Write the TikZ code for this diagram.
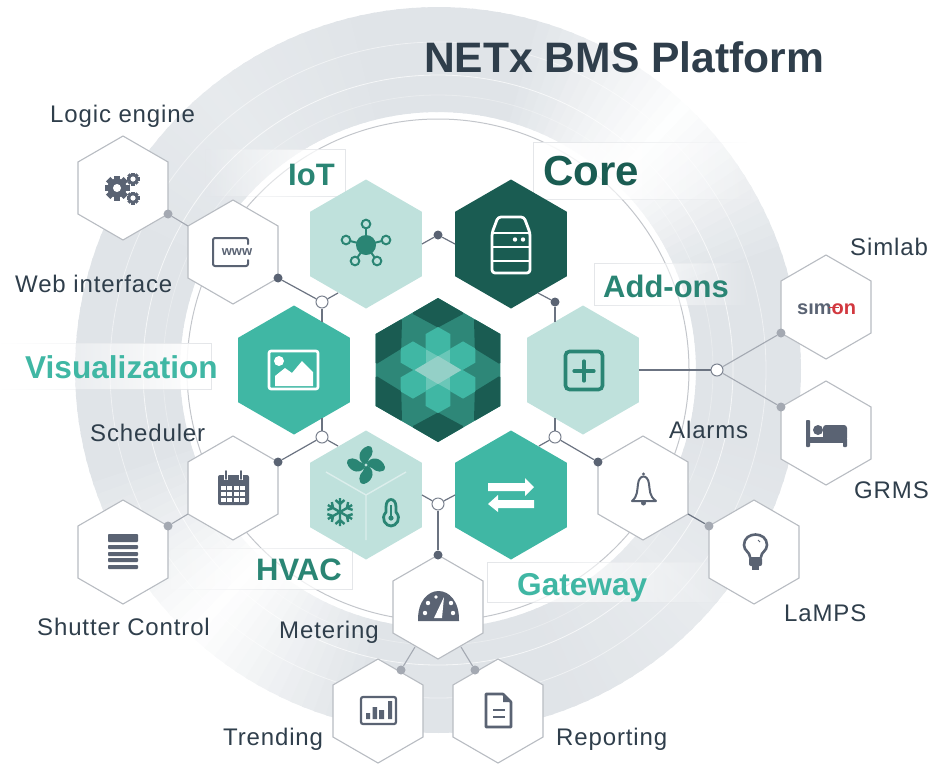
\documentclass[tikz,border=0pt]{standalone}
\usepackage{fontspec}
\setmainfont{Liberation Sans}
\newfontfamily\lblfont[LetterSpace=3.6]{Liberation Sans}
\usetikzlibrary{shapes.geometric,fadings}
\definecolor{ringc}{HTML}{E0E4E8}
\definecolor{pale}{HTML}{BFE1DC}
\definecolor{teal}{HTML}{40B7A4}
\definecolor{deep}{HTML}{1A5C52}
\definecolor{mid}{HTML}{2A8574}
\definecolor{medlogo}{HTML}{2E8778}
\definecolor{ico}{HTML}{5A6373}
\definecolor{txt}{HTML}{2F3E4B}
\definecolor{edge}{HTML}{B8BCC2}
\definecolor{bandline}{HTML}{E4E6E9}
\definecolor{simred}{HTML}{D2383F}
\tikzset{
  hexbase/.style={regular polygon,regular polygon sides=6,regular polygon rotate=30,inner sep=0pt,outer sep=0pt},
  bighex/.style={hexbase,minimum size=129pt},
  smallhex/.style={hexbase,minimum size=104pt,draw=edge,line width=1.1pt,fill=white},
  lbl/.style={anchor=base west,inner sep=0pt,text=txt,font=\lblfont\fontsize{24}{28}\selectfont},
  cat/.style={anchor=base west,inner sep=0pt,font=\bfseries\fontsize{31}{36}\selectfont},
  dotd/.style={circle,inner sep=0pt,minimum size=9pt,fill=ico},
  dotl/.style={circle,inner sep=0pt,minimum size=9pt,fill=ico!55!white},
  junction/.style={circle,inner sep=0pt,minimum size=12pt,fill=white,draw=ico!80!white,line width=1pt},
  cdark/.style={draw=ico!90!white,line width=1.2pt},
  clight/.style={draw=ico!55!white,line width=1.1pt},
  band/.style={fill=white,draw=bandline,line width=.8pt},
  icostroke/.style={draw=ico,line width=2pt,line join=round,line cap=round},
}
\newcommand\gearico[4]{%
  \foreach \a in {0,45,...,315}{\draw[ico,line width=#3*.5pt] ({#1+#3*.6*cos(\a)},{#2+#3*.6*sin(\a)}) -- ({#1+#3*cos(\a)},{#2+#3*sin(\a)});}
  \fill[ico] (#1,#2) circle ({#3*.76});
  \fill[white] (#1,#2) circle (#4);}
\begin{document}
\begin{tikzpicture}[x=1pt,y=-1pt]
\useasboundingbox (0,0) rectangle (936,764);
% ring as angular gradient
\foreach \a in {0,2,...,358}{
  \pgfmathsetmacro\tt{max(0,1-abs(\a-46)/28)*.95+max(0,1-abs(\a-226)/30)*.97+max(0,1-abs(\a-128)/28)*.22+max(0,1-abs(\a-318)/28)*.25}
  \pgfmathsetmacro\pp{100-100*min(\tt,1)}
  \pgfmathsetmacro\b{\a+2.6}
  \fill[ringc!\pp!white] ({438+363*cos(\a)},{370-363*sin(\a)}) -- ({438+363*cos(\b)},{370-363*sin(\b)}) -- ({438+258*cos(\b)},{370-258*sin(\b)}) -- ({438+258*cos(\a)},{370-258*sin(\a)}) -- cycle;
}
\draw[white,opacity=.7,line width=.8pt] (438,370) circle (295);
\draw[white,opacity=.5,line width=.8pt] (438,370) circle (328);
\draw[white,opacity=.3,line width=.8pt] (438,370) circle (275);
\draw[edge!85!white,line width=1pt] (438,370) circle (251);
% label bands
\draw[band,path fading=west] (205,149) rectangle (345,196);
\draw[band,path fading=east] (533,142) rectangle (750,199);
\draw[band,path fading=east] (594,263) rectangle (750,305);
\draw[band,path fading=west] (-2,343) rectangle (211,389);
\draw[band,path fading=west] (170,548) rectangle (352,589);
\draw[band,path fading=east] (487,562) rectangle (735,602);
% main hexes
\node[bighex,fill=pale] (iot) at (366,244) {};
\node[bighex,fill=deep] (core) at (511,244) {};
\node[bighex,fill=pale] (addons) at (583,370) {};
\node[bighex,fill=teal] (gateway) at (511,495) {};
\node[bighex,fill=pale] (hvac) at (366,495) {};
\node[bighex,fill=teal] (vis) at (294,370) {};
% centre logo
\node[hexbase,minimum size=144pt,fill=medlogo] (logo) at (438,370) {};
\begin{scope}[shift={(438,370)}]
  \foreach \r in {0,60,...,300}{
    \fill[deep,rotate=\r] (0,-72) -- (25,-57.5) -- (25,-56) -- (0,-42.5) -- (-25,-56) -- (-25,-57.5) -- cycle;
  }
  \foreach \r in {0,60,120}{
    \fill[teal,rotate=\r] (0,-43) -- (12.3,-36) -- (12.3,36) -- (0,43) -- (-12.3,36) -- (-12.3,-36) -- cycle;
  }
  \foreach \r in {60,120}{
    \fill[teal!78!white,rotate=\r] (-23.5,0) -- (0,-14) -- (23.5,0) -- (0,14) -- cycle;
  }
  \fill[teal!55!white!92!gray] (-23.5,0) -- (0,-14) -- (23.5,0) -- (0,14) -- cycle;
\end{scope}
% small hexes
\node[smallhex] (logic) at (123,188) {};
\node[smallhex] (web) at (233,252) {};
\node[smallhex] (sched) at (233,488) {};
\node[smallhex] (shutter) at (123,552) {};
\node[smallhex] (meter) at (438,607) {};
\node[smallhex] (trend) at (378,711) {};
\node[smallhex] (report) at (498,711) {};
\node[smallhex] (alarm) at (643,488) {};
\node[smallhex] (lamps) at (754,552) {};
\node[smallhex] (simlab) at (826,307) {};
\node[smallhex] (grms) at (826,433) {};
% junctions and dots
\node[dotl] (d1) at (logic.corner 5) {};
\node[dotd] (d2) at (web.corner 5) {};
\node[junction] (j1) at (322,302) {};
\node[dotd] (d3) at (438,235) {};
\node[dotd] (d4) at (555,302) {};
\node[junction] (j2) at (555,437) {};
\node[dotd] (d5) at (alarm.corner 2) {};
\node[dotl] (d6) at (lamps.corner 2) {};
\node[junction] (j3) at (717,370) {};
\node[dotl] (d7) at (simlab.corner 3) {};
\node[dotl] (d8) at (grms.corner 2) {};
\node[junction] (j4) at (322,437) {};
\node[dotd] (d9) at (sched.corner 6) {};
\node[dotl] (d10) at (shutter.corner 6) {};
\node[junction] (j5) at (438,504) {};
\node[dotd] (d11) at (meter.corner 1) {};
\node[dotl] (d12) at (401,670) {};
\node[dotl] (d13) at (475,670) {};
\coordinate (e1) at (338,293);
\coordinate (e2) at (322,322);
\coordinate (e3) at (422,244);
\coordinate (e4) at (455,244);
\coordinate (e5) at (538,293);
\coordinate (e6) at (555,322);
\coordinate (e7) at (555,418);
\coordinate (e8) at (539,446);
\coordinate (e9) at (322,418);
\coordinate (e10) at (338,446);
\coordinate (e11) at (422,495);
\coordinate (e12) at (455,495);
\coordinate (e13) at (415,647);
\coordinate (e14) at (461,647);
% connectors
\draw[clight] (d1) -- (web.corner 2);
\draw[cdark] (d2) -- (j1);
\draw[cdark] (j1) -- (e1);
\draw[cdark] (j1) -- (e2);
\draw[cdark] (e3) -- (d3);
\draw[cdark] (d3) -- (e4);
\draw[cdark] (e5) -- (d4);
\draw[cdark] (d4) -- (e6);
\draw[cdark] (e7) -- (j2);
\draw[cdark] (j2) -- (e8);
\draw[cdark] (j2) -- (d5);
\draw[cdark] (alarm.corner 5) -- (d6);
\draw[cdark] (addons.east) -- (j3);
\draw[clight] (j3) -- (d7);
\draw[clight] (j3) -- (d8);
\draw[cdark] (e9) -- (j4);
\draw[cdark] (d9) -- (j4);
\draw[cdark] (j4) -- (e10);
\draw[clight] (sched.corner 3) -- (d10);
\draw[cdark] (e11) -- (j5);
\draw[cdark] (e12) -- (j5);
\draw[cdark] (j5) -- (d11);
\draw[clight] (e13) -- (d12);
\draw[clight] (e14) -- (d13);
% texts
\node[anchor=base west,inner sep=0pt,text=txt,font=\bfseries\fontsize{42.6}{48}\selectfont] (title) at (424,72) {NETx BMS Platform};
\node[lbl] (t1) at (50,122) {Logic engine};
\node[lbl] (t2) at (15,292) {Web interface};
\node[lbl] (t3) at (850,255) {Simlab};
\node[lbl] (t4) at (854,498) {GRMS};
\node[lbl] (t5) at (669,438) {Alarms};
\node[lbl] (t6) at (784,621) {LaMPS};
\node[lbl] (t7) at (556,745) {Reporting};
\node[lbl] (t8) at (223,745) {Trending};
\node[lbl] (t9) at (279,638) {Metering};
\node[lbl] (t10) at (37,635) {Shutter Control};
\node[lbl] (t11) at (90,441) {Scheduler};
\node[cat,text=mid] (c1) at (288,185) {IoT};
\node[cat,text=deep,font=\bfseries\fontsize{42}{46}\selectfont] (c2) at (543,185) {Core};
\node[cat,text=mid] (c3) at (603,297) {Add-ons};
\node[cat,text=teal,font=\bfseries\fontsize{31.6}{36}\selectfont] (c4) at (25,378) {Visualization};
\node[cat,text=mid] (c5) at (256,580) {HVAC};
\node[cat,text=teal,font=\bfseries\fontsize{31.6}{36}\selectfont] (c6) at (517,595) {Gateway};
% ---------- icons
% gears
\gearico{117}{188}{12.5}{4}
\gearico{133}{179}{6.5}{2.6}
\gearico{133}{198}{6.5}{2.6}
% www
\draw[icostroke,rounded corners=2pt] (248,244) -- (248,238) -- (213,238) -- (213,266) -- (248,266) -- (248,260);
\node[inner sep=1pt,fill=white,text=ico,font=\bfseries\fontsize{13}{13}\selectfont] (wwwt) at (237,252) {www};
% network
\foreach \px/\py in {366/224,386/240,346/240,355/261,377/261}{
  \draw[mid,line width=2pt] (366,245) -- (\px,\py);
  \draw[mid,line width=2pt,fill=pale] (\px,\py) circle (4.3);
}
\fill[mid] (366,245) circle (10);
% server
\draw[white,line width=2.8pt,line join=round,rounded corners=3pt] (498,217) -- (524,217) -- (530,233) -- (530,273) -- (492,273) -- (492,233) -- cycle;
\draw[white,line width=2.6pt] (492,233) -- (530,233) (492,247) -- (530,247) (492,261) -- (530,261);
\fill[white] (515,239.5) circle (2.2) (523,239.5) circle (2.2);
% image
\draw[white,line width=2.6pt,rounded corners=2pt] (269,351) rectangle (318,389);
\fill[white] (279,361) circle (5);
\fill[white] (275,386) -- (275,376) -- (285,368) -- (292,373) -- (302,361) -- (313,372) -- (313,386) -- cycle;
% plus
\draw[mid,line width=3.6pt,rounded corners=4pt] (565.5,351.5) rectangle (602.5,389.5);
\draw[mid,line width=3.2pt,line cap=round] (574,371) -- (594,371) (584,361) -- (584,381);
% fan and dividers
\draw[white!45!pale,line width=1.4pt] (366,495) -- (326,472) (366,495) -- (406,472) (366,495) -- (366,540);
\begin{scope}[shift={(366,465)}]
  \foreach \r in {0,90,180,270}{
    \fill[mid,rotate=\r] (0,0) .. controls (-10,-4) and (-8,-16) .. (2,-19) .. controls (9,-19) and (7,-9) .. (3,-6) .. controls (2,-4) and (2,-2) .. (0,0) -- cycle;
  }
  \fill[pale] (0,0) circle (1.7);
\end{scope}
% snowflake
\begin{scope}[shift={(340,512)}]
  \foreach \r in {0,60,120,180,240,300}{
    \draw[mid,line width=2.4pt,rotate=\r] (0,0) -- (0,-14) (0,-8) -- (-4.5,-12) (0,-8) -- (4.5,-12);
  }
\end{scope}
% thermometer
\draw[mid,line width=2.8pt] (386,507) .. controls (386,497) and (396,497) .. (396,507) -- (396,512) .. controls (402,519) and (396,526) .. (391,526) .. controls (386,526) and (380,519) .. (386,512) -- cycle;
\draw[mid,line width=1.8pt] (391,505) -- (391,517);
\fill[mid] (391,518) circle (2.6);
% arrows
\fill[white] (488,483) -- (525,483) -- (525,478) -- (534,487) -- (525,496) -- (525,491) -- (488,491) -- cycle;
\fill[white] (534,500) -- (498,500) -- (498,495) -- (488,504) -- (498,512) -- (498,508) -- (534,508) -- cycle;
% shutter
\fill[ico,rounded corners=.8pt] (108,534) rectangle (138,542);
\foreach \yy in {545,552,558,565}{\fill[ico,rounded corners=.8pt] (108,\yy) rectangle (138,\yy+4);}
% calendar
\fill[ico,rounded corners=2pt] (218,475) rectangle (249,505);
\foreach \cx in {221,227.3,233.6,239.9}{\foreach \cy in {485.5,491.5,497.5}{\fill[white] (\cx,\cy) rectangle (\cx+5,\cy+4.8);}}
\draw[white,line width=3.4pt] (226,471) -- (226,480) (241,471) -- (241,480);
\draw[ico,line width=1.6pt,line cap=round] (226,471) -- (226,479) (241,471) -- (241,479);
% gauge
\fill[ico] (418,621) .. controls (417,581) and (460,581) .. (459,621) -- cycle;
\fill[white] (434,618) -- (442,618) -- (444,597) -- cycle;
\fill[white] (425,613) circle (2.2) (428,603) circle (2.2) (436,597) circle (1.8) (451,603) circle (2.2) (453,613) circle (2.2);
% chart
\draw[ico,line width=2.2pt,rounded corners=2pt] (361,697) rectangle (396,724);
\fill[ico] (366,713) rectangle (370,719) (372.5,707) rectangle (377,719) (379,710) rectangle (384,719) (388,701) rectangle (392,719);
% document
\draw[icostroke,line width=2.6pt] (486,694) -- (503,694) -- (511,702) -- (511,727) -- (486,727) -- cycle;
\fill[ico] (503,694) -- (511,702) -- (503,702) -- cycle;
\draw[ico,line width=2.2pt] (493,710) -- (505,710) (493,717) -- (505,717);
% bell
\draw[icostroke] (632,501) .. controls (638,496) and (637,490) .. (638,484) .. controls (639,474) and (648,474) .. (649,484) .. controls (650,490) and (649,496) .. (656,501) -- cycle;
\fill[ico] (643.5,474) circle (1.6) (643.5,503) circle (2.5);
% bulb
\draw[ico,line width=2.6pt,line cap=round] (750,557) .. controls (750,552) and (744,551) .. (744,545) .. controls (744,531) and (767,531) .. (767,545) .. controls (767,551) and (761,552) .. (761,557);
\fill[ico,rounded corners=2pt] (749,557) rectangle (762,566);
\fill[ico] (752,565) rectangle (759,570);
\draw[ico,line width=.9pt] (758,540) -- (760,542);
% bed
\fill[ico,rounded corners=.8pt] (806,420) rectangle (810,447) (843,438) rectangle (847,447);
\fill[ico] (806,437) rectangle (847,443);
\fill[ico,rounded corners=3pt] (823,425) rectangle (847,441);
\fill[ico] (818,430) circle (5);
% simon logo
\node[anchor=base west,inner sep=0pt,font=\bfseries\fontsize{20}{22}\selectfont] (simon) at (797,314) {\textcolor{ico}{sım}\textcolor{simred}{on}};
\draw[simred,line width=1.3pt] (829,307.5) -- (839,307.5);
\end{tikzpicture}
\end{document}
